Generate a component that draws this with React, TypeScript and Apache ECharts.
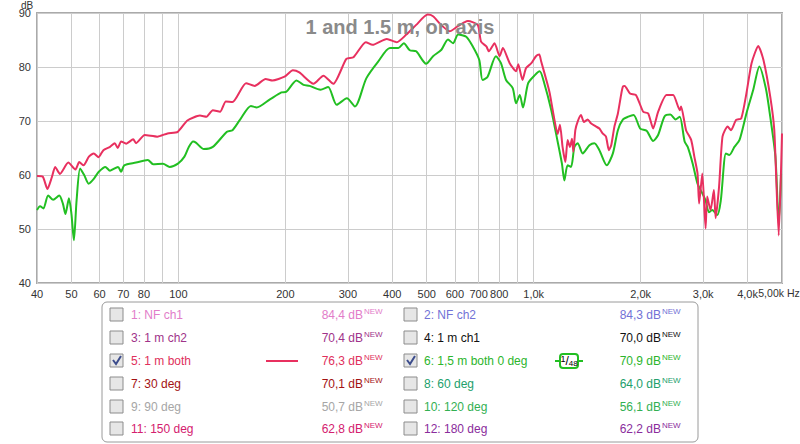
import React, { useEffect, useRef } from 'react';
import * as echarts from 'echarts';

// ---- data ----
const redHz = [40, 41.5, 42.8, 44, 45, 46.4, 49, 51.3, 52.6, 54.1, 56, 57.8, 59.6, 61.5, 64.2, 66.2, 67.5, 69, 71.3, 74.6, 76, 80.4, 87.2, 93.2, 99.6, 106, 115, 120, 125, 131, 136, 142, 155, 164, 176, 184, 199, 210, 219, 240, 256, 273, 297, 311, 337, 352, 386, 412, 438, 467, 503, 521, 545, 580, 610, 640, 653, 696, 711, 736, 748, 776, 802, 819, 856, 892, 905, 930, 952, 985, 1015, 1037, 1050, 1092, 1110, 1140, 1168, 1186, 1206, 1228, 1246, 1265, 1282, 1293, 1310, 1330, 1359, 1385, 1419, 1449, 1496, 1531, 1563, 1598, 1628, 1653, 1688, 1726, 1765, 1784, 1804, 1867, 1941, 2034, 2101, 2169, 2240, 2365, 2469, 2578, 2600, 2685, 2775, 2833, 2892, 2922, 2983, 3047, 3079, 3146, 3216, 3252, 3325, 3400, 3515, 3593, 3714, 3840, 3970, 4105, 4288, 4434, 4633, 4756, 4895, 5000];
const redDb = [59.8, 59.7, 57.4, 59.5, 61.5, 60.2, 62.3, 61.0, 62.4, 61.8, 63.4, 64.0, 63.3, 64.6, 65.2, 65.9, 65.0, 66.2, 65.8, 66.6, 65.9, 67.4, 67.1, 67.7, 68.0, 70.1, 71.0, 70.8, 72.0, 71.7, 73.6, 73.5, 77.0, 76.5, 77.8, 77.5, 78.2, 79.4, 79.0, 76.9, 78.4, 76.9, 81.5, 81.8, 84.6, 84.1, 85.2, 84.6, 86.0, 87.8, 89.7, 89.4, 88.0, 86.6, 87.5, 88.3, 88.5, 87.8, 84.7, 83.8, 82.9, 84.4, 82.0, 83.5, 80.7, 79.2, 80.5, 77.6, 79.8, 80.7, 82.0, 82.3, 81.0, 77.0, 75.1, 70.8, 67.6, 69.3, 65.2, 62.4, 66.5, 65.2, 66.7, 64.3, 68.3, 69.9, 71.1, 69.8, 70.3, 69.6, 69.0, 68.6, 67.7, 67.1, 64.6, 65.5, 69.0, 71.4, 75.1, 76.4, 76.5, 75.1, 74.8, 71.7, 71.4, 68.6, 71.7, 74.8, 74.8, 72.0, 72.7, 68.3, 66.5, 63.4, 60.3, 54.7, 60.3, 50.1, 56.0, 53.5, 57.2, 52.0, 57.8, 67.1, 69.0, 68.3, 70.2, 70.5, 75.1, 80.7, 83.9, 81.3, 74.5, 68.3, 48.8, 67.7];

const greenHz = [40, 40.8, 41.7, 43, 44.4, 46.2, 47.3, 48.1, 49.2, 50, 50.8, 51.7, 52.9, 54.3, 55.9, 57.8, 59.7, 62.3, 64.2, 67.6, 69, 70.4, 76, 82, 84.9, 90.5, 94.5, 99.7, 104, 107, 110, 112, 118, 125, 137, 142, 149, 160, 166, 181, 195, 201, 215, 225, 234, 251, 264, 279, 298, 314, 338, 365, 394, 416, 431, 448, 467, 498, 521, 550, 574, 593, 613, 646, 674, 703, 718, 742, 783, 809, 836, 873, 892, 914, 933, 965, 1008, 1040, 1071, 1121, 1168, 1201, 1220, 1246, 1274, 1302, 1330, 1374, 1435, 1482, 1531, 1606, 1671, 1726, 1784, 1846, 1911, 1995, 2079, 2169, 2240, 2337, 2425, 2510, 2578, 2660, 2714, 2803, 2892, 2983, 3047, 3114, 3180, 3289, 3363, 3476, 3554, 3673, 3797, 3970, 4150, 4318, 4501, 4633, 4791, 4895, 4970];
const greenDb = [53.5, 54.2, 53.8, 56.2, 55.4, 56.2, 54.7, 52.8, 55.7, 52.8, 47.9, 55.3, 61.2, 60.0, 58.4, 59.3, 60.6, 61.5, 60.8, 61.5, 60.6, 61.8, 62.3, 62.8, 62.0, 62.1, 61.5, 62.1, 63.4, 65.2, 66.2, 66.0, 64.8, 65.2, 68.0, 68.3, 70.2, 72.8, 72.5, 74.0, 75.3, 75.4, 77.5, 76.7, 76.5, 75.8, 76.3, 73.0, 74.2, 72.7, 77.9, 81.0, 83.5, 83.5, 84.4, 83.1, 82.9, 80.6, 82.0, 83.2, 85.1, 84.4, 86.0, 85.6, 83.8, 81.3, 77.6, 78.2, 82.0, 80.7, 77.6, 76.1, 73.3, 74.8, 72.5, 77.0, 78.5, 79.2, 77.0, 72.0, 66.2, 62.1, 59.0, 61.8, 61.5, 65.2, 65.9, 64.0, 65.5, 65.9, 64.6, 61.8, 64.0, 68.3, 70.3, 70.8, 71.1, 68.6, 68.2, 66.3, 67.4, 70.9, 71.2, 70.3, 70.8, 66.2, 65.2, 62.1, 58.4, 56.6, 55.3, 53.1, 53.5, 52.6, 55.3, 64.0, 63.7, 65.2, 66.5, 71.4, 75.8, 80.1, 76.1, 70.8, 63.4, 51.0, 60.3];

const xGridHz = [40, 50, 60, 70, 80, 90, 100, 200, 300, 400, 500, 600, 700, 800, 900, 1000, 2000, 3000, 4000, 5000];
const xLabelHz = [40, 50, 60, 70, 80, 100, 200, 300, 400, 500, 600, 700, 800, 1000, 2000, 3000, 4000];
const xLabelText = ['40', '50', '60', '70', '80', '100', '200', '300', '400', '500', '600', '700', '800', '1,0k', '2,0k', '3,0k', '4,0k'];
const xEndHz = 5000;
const xEndText = '5,00k Hz';

const legendNames = ['1: NF ch1', '2: NF ch2', '3: 1 m ch2', '4: 1 m ch1', '5: 1 m both', '6: 1,5 m both 0 deg', '7: 30 deg', '8: 60 deg', '9: 90 deg', '10: 120 deg', '11: 150 deg', '12: 180 deg'];
const legendValues = ['84,4 dB', '84,3 dB', '70,4 dB', '70,0 dB', '76,3 dB', '70,9 dB', '70,1 dB', '64,0 dB', '50,7 dB', '56,1 dB', '62,8 dB', '62,2 dB'];
const legendColors = ['#e27cc9', '#7272d6', '#a0338a', '#111111', '#e0305c', '#2cb52c', '#a31212', '#22a06c', '#a6a6a6', '#32b052', '#d4206e', '#8a2c9c'];
const legendChecked = [false, false, false, false, true, true, false, false, false, false, false, false];

const RED = '#e8305f';
const GREEN = '#22bf22';
const FONT = '"Liberation Sans", Arial, sans-serif';

export default function App() {
  const ref = useRef<HTMLDivElement>(null);
  useEffect(() => {
    if (!ref.current) return;
    const chart = echarts.init(ref.current, undefined, { renderer: 'svg' });
    const lg = (v: number) => Math.log10(v);
    const redData = redHz.map((f, i) => [lg(f), redDb[i]]);
    const greenData = greenHz.map((f, i) => [lg(f), greenDb[i]]);
    const labelLogs = xLabelHz.map(lg);

    chart.setOption({
      animation: false,
      backgroundColor: '#ffffff',
      title: {
        text: '1 and 1.5 m, on axis',
        left: 'center',
        top: 12,
        textStyle: { fontSize: 20, fontWeight: 'bold', color: '#8a8a8a', fontFamily: FONT },
      },
      grid: {
        left: 37, right: 18, top: 13, bottom: 161,
        show: true, borderColor: '#aaaaaa', borderWidth: 2, backgroundColor: '#fff',
        containLabel: false, outerBoundsMode: 'none',
      },
      xAxis: {
        type: 'value',
        min: lg(40),
        max: lg(5000),
        axisLine: { show: false },
        axisTick: { show: false, customValues: xGridHz.map(lg) },
        splitLine: { show: true, lineStyle: { color: '#cccccc', width: 1 } },
        axisLabel: {
          customValues: labelLogs,
          hideOverlap: false,
          color: '#333',
          fontSize: 11,
          fontFamily: FONT,
          margin: 5,
          formatter: (v: number) => {
            let best = 0;
            labelLogs.forEach((l, i) => { if (Math.abs(l - v) < Math.abs(labelLogs[best] - v)) best = i; });
            return xLabelText[best];
          },
        },
      },
      yAxis: {
        type: 'value',
        min: 40,
        max: 90,
        interval: 10,
        axisLine: { show: false },
        axisTick: { show: false },
        splitLine: { show: true, lineStyle: { color: '#cccccc', width: 1 } },
        axisLabel: { color: '#333', fontSize: 11, fontFamily: FONT, margin: 6 },
      },
      series: [
        {
          name: '6: 1,5 m both 0 deg', type: 'line', data: greenData, showSymbol: false, smooth: 0.25,
          lineStyle: { color: GREEN, width: 2 }, z: 3,
        },
        {
          name: '5: 1 m both', type: 'line', data: redData, showSymbol: false, smooth: 0.2,
          lineStyle: { color: RED, width: 2 }, z: 4,
        },
      ],
    });

    // end-of-axis label placed through the axis scale
    const endX = chart.convertToPixel({ xAxisIndex: 0 }, lg(xEndHz)) as number;
    const axisY = chart.convertToPixel({ yAxisIndex: 0 }, 40) as number;

    const graphics: any[] = [];
    graphics.push({ type: 'text', x: endX - 3, y: axisY + 10, style: { text: xEndText, fill: '#333', font: '10.5px ' + FONT, align: 'center', verticalAlign: 'middle' } });
    graphics.push({ type: 'text', x: 21, y: 0, style: { text: 'dB', fill: '#333', font: '10px ' + FONT } });
    graphics.push({ type: 'rect', shape: { x: 102, y: 302, width: 596, height: 140, r: 5 }, style: { fill: '#fff', stroke: '#9a9a9a', lineWidth: 1 } });
    const rowY = [315, 338, 361, 384, 407, 429];
    legendNames.forEach((name, i) => {
      const col = i % 2;
      const row = Math.floor(i / 2);
      const cy = rowY[row];
      const bx = col === 0 ? 110 : 404;
      const tx = col === 0 ? 131 : 424;
      const vx = col === 0 ? 363 : 661;
      graphics.push({ type: 'rect', shape: { x: bx, y: cy - 7, width: 13, height: 13 }, style: { fill: '#e6e6e6', stroke: '#8c8c8c', lineWidth: 1 } });
      if (legendChecked[i]) {
        graphics.push({ type: 'polyline', shape: { points: [[bx + 3, cy - 1], [bx + 6, cy + 3], [bx + 11, cy - 5]] }, style: { stroke: '#3c4c8c', lineWidth: 2, fill: null } });
      }
      graphics.push({ type: 'text', x: tx, y: cy, style: { text: name, fill: legendColors[i], font: '12px ' + FONT, align: 'left', verticalAlign: 'middle' } });
      graphics.push({ type: 'text', x: vx, y: cy, style: { text: legendValues[i], fill: legendColors[i], font: '12px ' + FONT, align: 'right', verticalAlign: 'middle' } });
      graphics.push({ type: 'text', x: vx + 1, y: cy - 4, style: { text: 'NEW', fill: legendColors[i], font: '8px ' + FONT, align: 'left', verticalAlign: 'middle' } });
    });
    // legend line sample for trace 5
    graphics.push({ type: 'line', shape: { x1: 266, y1: 361, x2: 298, y2: 361 }, style: { stroke: RED, lineWidth: 2 } });
    // smoothing indicator for trace 6
    graphics.push({ type: 'line', shape: { x1: 555, y1: 361, x2: 583, y2: 361 }, style: { stroke: GREEN, lineWidth: 2 } });
    graphics.push({ type: 'rect', shape: { x: 560, y: 354, width: 18, height: 14, r: 3 }, style: { fill: '#fff', stroke: GREEN, lineWidth: 2 } });
    graphics.push({
      type: 'text', x: 569, y: 361,
      style: {
        text: '{a|1}{b|/}{c|48}', align: 'center', verticalAlign: 'middle', fill: '#000',
        rich: {
          a: { fontSize: 9, fontFamily: FONT, fill: '#000', padding: [0, 0, 5, 0] },
          b: { fontSize: 12, fontFamily: FONT, fill: '#000' },
          c: { fontSize: 8, fontFamily: FONT, fill: '#000', padding: [4, 0, 0, 0] },
        },
      },
    });

    chart.setOption({ graphic: graphics });
    return () => chart.dispose();
  }, []);
  return <div ref={ref} style={{ position: 'fixed', left: 0, top: 0, width: 800, height: 444 }} />;
}
